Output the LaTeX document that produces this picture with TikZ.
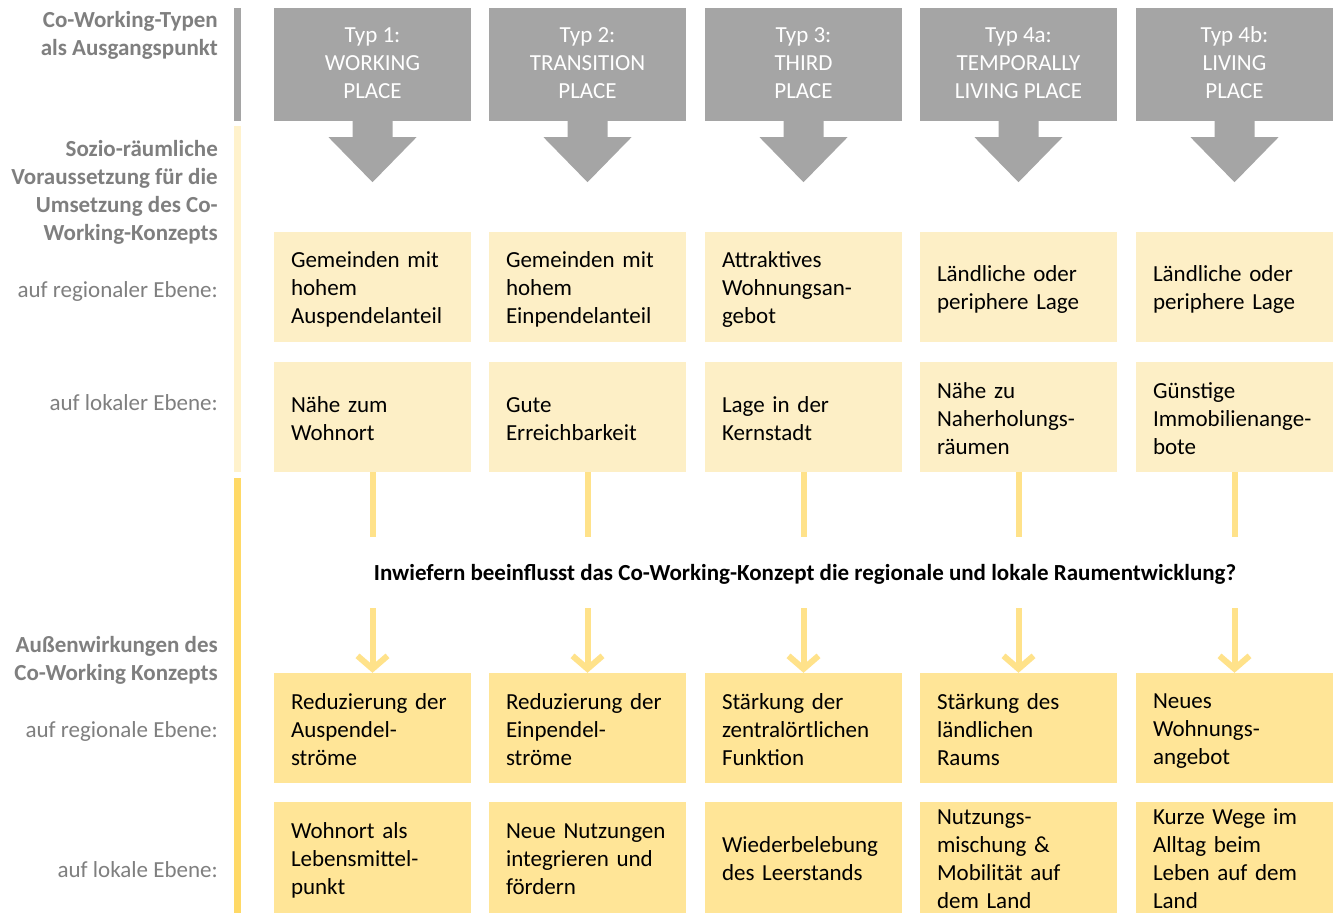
\documentclass[tikz,border=0pt]{standalone}
\usepackage{fontspec}
\setmainfont{Carlito}
\usetikzlibrary{arrows.meta}
\definecolor{hdrgray}{HTML}{A5A5A5}
\definecolor{paleY}{HTML}{FDEFC6}
\definecolor{midY}{HTML}{FFE597}
\definecolor{barY}{HTML}{FFD966}
\definecolor{barPale}{HTML}{FFF2CC}
\definecolor{lineY}{HTML}{FFE28A}
\definecolor{lblgray}{HTML}{7F7F7F}
\newcommand\boxstrut{\vrule width0pt height21pt depth3pt\relax}
\newcommand\hdrstrut{\vrule width0pt height23pt depth3pt\relax}
\begin{document}
\begin{tikzpicture}[x=1pt,y=-1pt,font=\fontsize{23}{28}\selectfont,
  hdr/.style={fill=hdrgray,minimum width=197pt,minimum height=113pt,text=white,align=center,inner sep=0pt,
    execute at begin node=\hdrstrut,execute at end node=\hdrstrut},
  boxbase/.style={minimum height=110pt,text width=163pt,inner xsep=17pt,inner ysep=0pt,align=left,text=black,
    execute at begin node=\boxstrut,execute at end node=\boxstrut},
  prebox/.style={boxbase,fill=paleY},
  effbox/.style={boxbase,fill=midY},
  lbl/.style={anchor=east,align=right,text=lblgray,inner sep=0pt,
    execute at begin node=\boxstrut,execute at end node=\boxstrut},
  conn/.style={draw=lineY,line width=6pt},
  harrow/.style={fill=hdrgray}]
\useasboundingbox (0,0) rectangle (1336,913);
\fill[white] (0,0) rectangle (1336,913);

% left bars
\fill[hdrgray] (234,8) rectangle (241,121);
\fill[barPale] (234,126) rectangle (241,472);
\fill[barY] (234,478) rectangle (241,913);

% left labels
\node[lbl,font=\fontsize{23}{28}\selectfont\bfseries] (l1) at (218,35) {Co-Working-Typen\\als Ausgangspunkt};
\node[lbl,font=\fontsize{23}{28}\selectfont\bfseries] (l2) at (218,192.5) {Sozio-räumliche\\Voraussetzung für die\\Umsetzung des Co-\\Working-Konzepts};
\node[lbl] (l3) at (218,289) {auf regionaler Ebene:};
\node[lbl] (l4) at (218,401) {auf lokaler Ebene:};
\node[lbl,font=\fontsize{23}{28}\selectfont\bfseries] (l5) at (218,660) {Außenwirkungen des\\Co-Working Konzepts};
\node[lbl] (l6) at (218,729) {auf regionale Ebene:};
\node[lbl] (l7) at (218,868) {auf lokale Ebene:};

% headers
\node[hdr] (h1) at (372.5,64.5) {Typ 1:\\WORKING\\PLACE};
\node[hdr] (h2) at (587.5,64.5) {Typ 2:\\TRANSITION\\PLACE};
\node[hdr] (h3) at (803.5,64.5) {Typ 3:\\THIRD\\PLACE};
\node[hdr] (h4) at (1018.5,64.5) {Typ 4a:\\TEMPORALLY\\LIVING PLACE};
\node[hdr] (h5) at (1234.5,64.5) {Typ 4b:\\LIVING\\PLACE};
\foreach \i in {1,...,5}{
  \fill[harrow] (h\i.south) ++(-20,0) -- ++(0,16) -- ++(-24,0) -- ++(44,45) -- ++(44,-45) -- ++(-24,0) -- ++(0,-16) -- cycle;
}

% row A
\node[prebox] (a1) at (372.5,287) {Gemeinden mit\\hohem\\Auspendelanteil};
\node[prebox] (a2) at (587.5,287) {Gemeinden mit\\hohem\\Einpendelanteil};
\node[prebox] (a3) at (803.5,287) {Attraktives\\Wohnungsan-\\gebot};
\node[prebox] (a4) at (1018.5,287) {Ländliche oder\\periphere Lage};
\node[prebox] (a5) at (1234.5,287) {Ländliche oder\\periphere Lage};
% row B
\node[prebox] (b1) at (372.5,417) {Nähe zum\\Wohnort};
\node[prebox] (b2) at (587.5,417) {Gute\\Erreichbarkeit};
\node[prebox] (b3) at (803.5,417) {Lage in der\\Kernstadt};
\node[prebox] (b4) at (1018.5,417) {Nähe zu\\Naherholungs-\\räumen};
\node[prebox] (b5) at (1234.5,417) {Günstige\\Immobilienange-\\bote};
% row C
\node[effbox] (c1) at (372.5,728) {Reduzierung der\\Auspendel-\\ströme};
\node[effbox] (c2) at (587.5,728) {Reduzierung der\\Einpendel-\\ströme};
\node[effbox] (c3) at (803.5,728) {Stärkung der\\zentralörtlichen\\Funktion};
\node[effbox] (c4) at (1018.5,728) {Stärkung des\\ländlichen\\Raums};
\node[effbox] (c5) at (1234.5,728) {Neues\\Wohnungs-\\angebot};
% row D
\node[effbox,minimum height=111pt] (d1) at (372.5,857.5) {Wohnort als\\Lebensmittel-\\punkt};
\node[effbox,minimum height=111pt] (d2) at (587.5,857.5) {Neue Nutzungen\\integrieren und\\fördern};
\node[effbox,minimum height=111pt] (d3) at (803.5,857.5) {Wiederbelebung\\des Leerstands};
\node[effbox,minimum height=111pt] (d4) at (1018.5,857.5) {Nutzungs-\\mischung \&\\Mobilität auf\\dem Land};
\node[effbox,minimum height=111pt] (d5) at (1234.5,857.5) {Kurze Wege im\\Alltag beim\\Leben auf dem\\Land};

% question
\node[font=\fontsize{23}{28}\selectfont\bfseries,text=black] (q) at (805,574) {Inwiefern beeinflusst das Co-Working-Konzept die regionale und lokale Raumentwicklung?};

% connectors
\foreach \i/\cx in {1/372.5,2/587.5,3/803.5,4/1018.5,5/1234.5}{
  \coordinate (p\i) at (\cx,537);
  \coordinate (r\i) at (\cx,608);
  \draw[conn] (b\i.south) -- (p\i);
  \draw[conn,-{Straight Barb[length=13pt,width=30pt]}] (r\i) -- (c\i.north);
}
\end{tikzpicture}
\end{document}
